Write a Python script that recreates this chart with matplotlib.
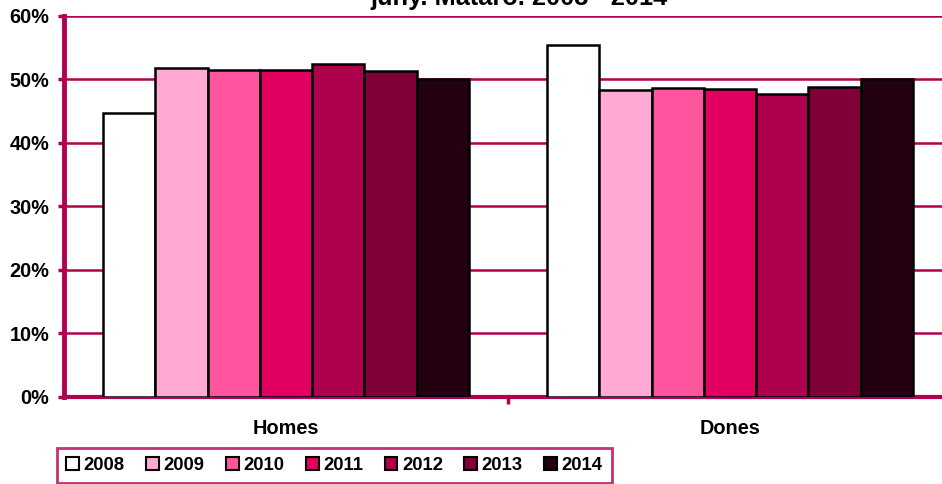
import matplotlib.pyplot as plt
import numpy as np

plt.rcParams['font.family'] = ['Liberation Sans', 'DejaVu Sans']

groups = ["Homes", "Dones"]
years = ["2008", "2009", "2010", "2011", "2012", "2013", "2014"]
homes = [44.6, 51.7, 51.4, 51.5, 52.4, 51.2, 50.0]
dones = [55.4, 48.3, 48.6, 48.5, 47.6, 48.8, 50.0]
colors = ["#FFFFFF", "#FFA9D4", "#FF559F", "#E10060", "#AD004D", "#80003A", "#230012"]
accent = "#B0004F"

fig = plt.figure(figsize=(9.42, 4.84), dpi=100)
ax = fig.add_axes([64/942, 1 - 397/484, (952-64)/942, (397-15.5)/484])

n = len(years)
w = 0.825 / n
x = np.arange(len(groups))
for i in range(n):
    vals = [homes[i], dones[i]]
    ax.bar(x - 0.4125 + w*(i+0.5), vals, w, color=colors[i], edgecolor="black",
           linewidth=1.8, label=years[i], zorder=3)

ax.set_xlim(-0.5, 1.5)
ax.set_ylim(0, 60)
ax.set_yticks(range(0, 61, 10))
ax.set_yticklabels([f"{v}%" for v in range(0, 61, 10)], fontsize=14.3, fontweight="bold")
ax.yaxis.grid(True, color=accent, linewidth=1.8, zorder=0)
ax.set_xticks(x)
ax.set_xticklabels(groups, fontsize=14.3, fontweight="bold")
ax.tick_params(axis="x", length=0, pad=15.5)
ax.set_xticks([0.5], minor=True)
ax.tick_params(axis="x", which="minor", length=5, width=2.5, color=accent, direction="out")
ax.tick_params(axis="y", length=4.5, width=2.5, color=accent, pad=6)
for s in ["top", "right"]:
    ax.spines[s].set_visible(False)
ax.spines["left"].set_color(accent)
ax.spines["left"].set_linewidth(3.5)
ax.spines["bottom"].set_color(accent)
ax.spines["bottom"].set_linewidth(3)

fig.text(519/942, 1 - 5/484, "juny. Mataró. 2008 - 2014", fontsize=18.3, fontweight="bold",
         ha="center", va="baseline")

leg = fig.legend(loc="lower left", bbox_to_anchor=(57/942, 1/484), ncol=n, frameon=True,
                 fancybox=False, edgecolor=accent, handlelength=0.7, handleheight=0.7,
                 handletextpad=0.25, columnspacing=1.15, borderpad=0.5, borderaxespad=0,
                 prop={"weight": "bold", "size": 13.3})
leg.get_frame().set_linewidth(2)
for h in leg.legend_handles:
    h.set_linewidth(1.5)

fig.savefig("out.png", dpi=100)
